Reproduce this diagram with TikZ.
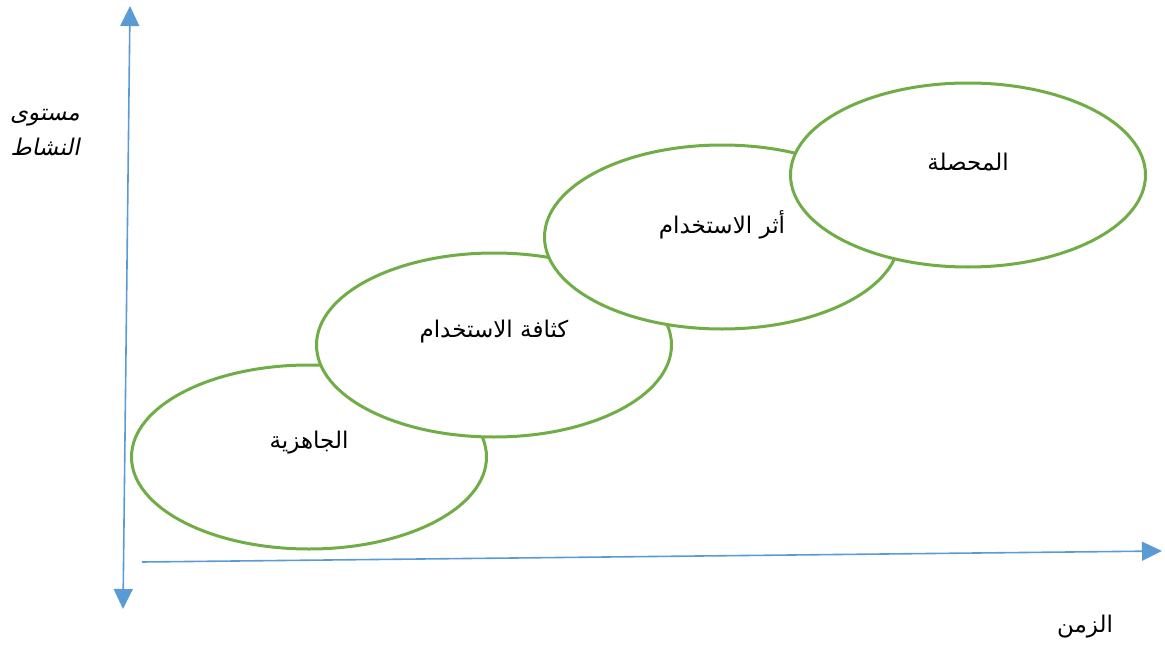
\documentclass[tikz,border=0pt]{standalone}
\usepackage{fontspec}
\usetikzlibrary{arrows.meta,shapes.geometric}
\TeXXeTstate=1
\newfontfamily\arabicfont[Script=Arabic]{DejaVu Sans}
\newfontfamily\arabicslant[Script=Arabic,FakeSlant=0.2]{DejaVu Sans}
\definecolor{axisblue}{HTML}{5B9BD5}
\definecolor{stagegreen}{HTML}{70AD47}
\begin{document}
\begin{tikzpicture}[x=1pt,y=-1pt,
    stage/.style={draw=stagegreen,fill=white,ellipse,minimum width=355pt,minimum height=184pt,inner sep=0pt,line width=3pt},
    lbl/.style={font=\arabicfont\fontsize{23}{27}\selectfont,inner sep=0pt},
    axis/.style={draw=axisblue,line width=1.6pt,-{Triangle[width=19pt,length=20pt]}}]
        \useasboundingbox (0,0) rectangle (1165,645);
        \coordinate (ytop) at (130,6);
        \coordinate (ybot) at (123,609);
        \coordinate (xstart) at (142,562);
        \coordinate (xend) at (1162,551);
        \draw[axis,{Triangle[width=19pt,length=20pt]}-{Triangle[width=19pt,length=20pt]}] (ybot) -- (ytop);
        \draw[axis] (xstart) -- (xend);
        \node[stage] (s1) at (309,457) {};
        \node[stage] (s2) at (494,345) {};
        \node[stage] (s3) at (722,237) {};
        \node[stage] (s4) at (968,175) {};
        \node[lbl] (t1) at ([yshift=14pt]s1.center) {\beginR الجاهزية\endR};
        \node[lbl] (t2) at ([yshift=13pt]s2.center) {\beginR كثافة الاستخدام\endR};
        \node[lbl] (t3) at ([yshift=12pt]s3.center) {\beginR أثر الاستخدام\endR};
        \node[lbl] (t4) at ([yshift=13pt]s4.center) {\beginR المحصلة\endR};
        \node[lbl,font=\arabicslant\fontsize{23}{35}\selectfont,align=right] (yl) at (45,133) {\beginR مستوى\endR\\\beginR النشاط\endR};
        \node[lbl] (xl) at (1085,627) {\beginR الزمن\endR};
      \end{tikzpicture}
\end{document}
